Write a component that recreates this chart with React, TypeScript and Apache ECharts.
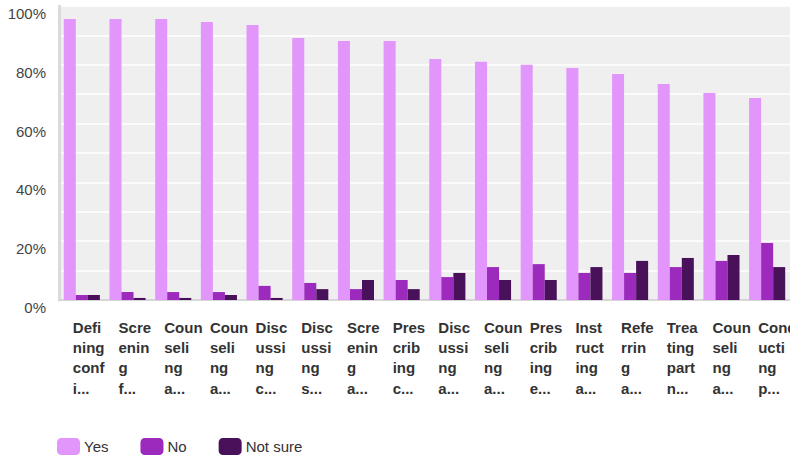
import React, { useEffect, useRef } from "react";
import * as echarts from "echarts";

const categories = [
  "Defi\nning\nconf\ni...",
  "Scre\nenin\ng\nf...",
  "Coun\nseli\nng\na...",
  "Coun\nseli\nng\na...",
  "Disc\nussi\nng\nc...",
  "Disc\nussi\nng\ns...",
  "Scre\nenin\ng\na...",
  "Pres\ncrib\ning\nc...",
  "Disc\nussi\nng\na...",
  "Coun\nseli\nng\na...",
  "Pres\ncrib\ning\ne...",
  "Inst\nruct\ning\na...",
  "Refe\nrrin\ng\na...",
  "Trea\nting\npart\nn...",
  "Coun\nseli\nng\na...",
  "Cond\nucti\nng\np...",
];

const yesValues = [95.6, 95.6, 95.6, 94.6, 93.5, 89.1, 88.1, 88.1, 82.0, 81.0, 80.0, 78.9, 76.9, 73.5, 70.4, 68.7];
const noValues = [1.7, 2.7, 2.7, 2.7, 4.8, 5.8, 3.7, 6.8, 7.8, 11.2, 12.2, 9.2, 9.2, 11.2, 13.3, 19.4];
const notSureValues = [1.7, 0.7, 0.7, 1.7, 0.7, 3.7, 6.8, 3.7, 9.2, 6.8, 6.8, 11.2, 13.3, 14.3, 15.3, 11.2];

const seriesNames = ["Yes", "No", "Not sure"];
const colors = ["#e295fa", "#9b2abd", "#481159"];

const FONT = "'Liberation Sans', Arial, Helvetica, sans-serif";

export default function App() {
  const ref = useRef<HTMLDivElement>(null);
  useEffect(() => {
    if (!ref.current) return;
    const chart = echarts.init(ref.current, undefined, { renderer: "svg" });
    const data = [yesValues, noValues, notSureValues];
    chart.setOption({
      animation: false,
      color: colors,
      textStyle: { fontFamily: FONT },
      grid: {
        left: 59,
        right: 0,
        top: 6,
        bottom: 158,
        show: true,
        backgroundColor: "#efefef",
        borderWidth: 0,
        outerBoundsMode: "none",
        containLabel: false,
      },
      legend: {
        left: 57,
        top: 438,
        padding: 0,
        itemWidth: 23,
        itemHeight: 17,
        itemGap: 32,
        icon: "roundRect",
        textStyle: { fontSize: 15, color: "#333", fontFamily: FONT, padding: [0, 0, 0, -1] },
        data: seriesNames,
      },
      xAxis: {
        type: "category",
        data: categories,
        axisTick: { show: false },
        axisLine: { lineStyle: { color: "#d6d6d6", width: 2 } },
        axisLabel: {
          interval: 0,
          margin: 17,
          align: "left",
          padding: [0, 0, 0, -9],
          fontSize: 15,
          fontWeight: "bold",
          lineHeight: 20.3,
          color: "#333",
          fontFamily: FONT,
        },
      },
      yAxis: {
        type: "value",
        min: 0,
        max: 100,
        interval: 10,
        axisLine: { show: true, lineStyle: { color: "#dadada", width: 3 } },
        axisTick: { show: false },
        splitLine: { lineStyle: { color: "#ffffff", width: 1.5 } },
        axisLabel: {
          margin: 13,
          fontSize: 15,
          color: "#444",
          verticalAlign: "top",
          lineHeight: 15,
          fontFamily: FONT,
          formatter: (v: number) => (v % 20 === 0 ? v + "%" : ""),
        },
      },
      series: seriesNames.map((name, i) => ({
        name,
        type: "bar",
        data: data[i],
        barGap: "0%",
        barCategoryGap: "21%",
      })),
    });
    return () => chart.dispose();
  }, []);
  return (
    <div
      ref={ref}
      style={{ position: "absolute", left: 0, top: 0, width: 790, height: 458 }}
    />
  );
}
